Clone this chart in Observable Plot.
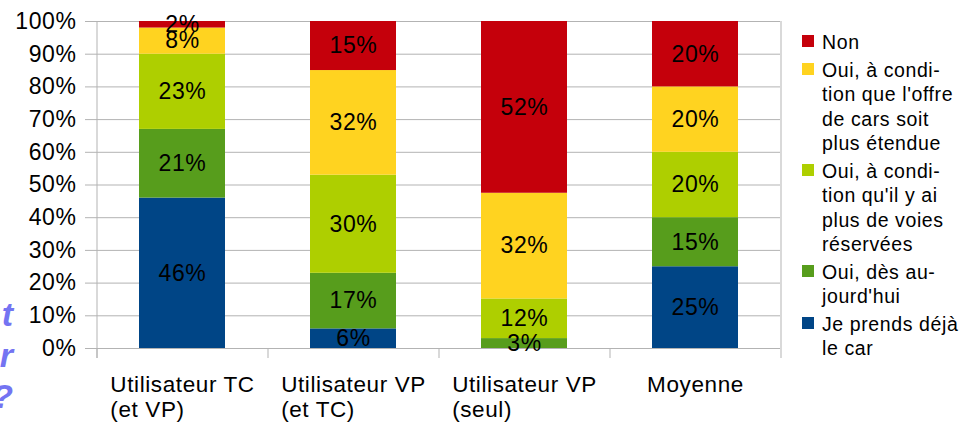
<!DOCTYPE html>
<html><head><meta charset="utf-8">
<script src="https://cdn.jsdelivr.net/npm/d3@7"></script>
<script src="https://cdn.jsdelivr.net/npm/@observablehq/plot@0.6"></script>
<style>
body{margin:0;background:#fff;}
#wrap{position:relative;width:967px;height:422px;overflow:hidden;font-family:"Liberation Sans",Arial,sans-serif;}
#chart svg text{letter-spacing:0.6px;}
#legend{position:absolute;left:0;top:0;width:967px;height:422px;pointer-events:none;}
.entry{position:absolute;left:802px;}
.sw{position:absolute;left:0;width:12px;height:12px;}
.lt{position:absolute;left:20px;font-size:19.5px;line-height:24.3px;white-space:nowrap;color:#000;letter-spacing:0.6px;}
#side{position:absolute;left:-100px;width:113px;text-align:right;font-style:italic;font-weight:bold;font-size:34px;line-height:41px;color:#7474f2;}
</style></head><body>
<div id="wrap"><div id="chart"></div><div id="legend"></div><div id="side"></div></div>
<script>
const categories = ["Utilisateur TC (et VP)", "Utilisateur VP (et TC)", "Utilisateur VP (seul)", "Moyenne"];
const categoryLabels = ["Utilisateur TC\n(et VP)", "Utilisateur VP\n(et TC)", "Utilisateur VP\n(seul)", "Moyenne"];
const series = ["Je prends déjà le car", "Oui, dès aujourd'hui", "Oui, à condition qu'il y ai plus de voies réservées", "Oui, à condition que l'offre de cars soit plus étendue", "Non"];
const seriesColors = ["#004586", "#579d1c", "#aecf00", "#ffd320", "#c5000b"];
const jePrends = [46, 6, 0, 25];
const ouiAujourdhui = [21, 17, 3, 15];
const ouiVoies = [23, 30, 12, 20];
const ouiOffre = [8, 32, 32, 20];
const non = [2, 15, 52, 20];
const yTicks = [0, 0.1, 0.2, 0.3, 0.4, 0.5, 0.6, 0.7, 0.8, 0.9, 1];
// legend, top to bottom
const legendSeries = ["Non", "Oui, à condition que l'offre de cars soit plus étendue", "Oui, à condition qu'il y ai plus de voies réservées", "Oui, dès aujourd'hui", "Je prends déjà le car"];
const legendLines = [
  ["Non"],
  ["Oui, à condi-", "tion que l'offre", "de cars soit", "plus étendue"],
  ["Oui, à condi-", "tion qu'il y ai", "plus de voies", "réservées"],
  ["Oui, dès au-", "jourd'hui"],
  ["Je prends déjà", "le car"]
];
const sideText = ["t", "r", "?"];

const valuesBySeries = [jePrends, ouiAujourdhui, ouiVoies, ouiOffre, non];
const data = [];
series.forEach((s, i) => categories.forEach((c, j) => data.push({category: c, series: s, value: valuesBySeries[i][j]})));

const W = 967, H = 422, mL = 96, mR = 187, mT = 21, mB = 74;
const half = (W - mL - mR) / categories.length / 2;
const below = 10 / (H - mT - mB);
const grid = "#b3b3b3";

const plot = Plot.plot({
  width: W, height: H, marginLeft: mL, marginRight: mR, marginTop: mT, marginBottom: mB,
  style: {fontFamily: "Liberation Sans, Arial, sans-serif", background: "white", color: "black", overflow: "visible"},
  x: {domain: categories, paddingInner: 0.5, paddingOuter: 0.25, axis: null},
  y: {domain: [0, 1], axis: null},
  color: {domain: series, range: seriesColors},
  marks: [
    Plot.ruleY(yTicks, {stroke: grid, insetLeft: -11}),
    Plot.ruleX(categories, {x: d => d, dx: -half, y1: 0, y2: -below, stroke: grid}),
    Plot.ruleX([categories[0]], {x: d => d, dx: -half, y1: 1, y2: -below, stroke: grid}),
    Plot.ruleX([categories[categories.length - 1]], {x: d => d, dx: half, y1: 1, y2: -below, stroke: grid}),
    Plot.barY(data, Plot.stackY({x: "category", y: "value", fill: "series", order: series, offset: "normalize"})),
    Plot.text(data, Plot.stackY({x: "category", y: "value", z: "series", order: series, offset: "normalize",
      text: d => d.value > 0 ? d.value + "%" : "", fontSize: 23, fill: "black"})),
    Plot.axisY({ticks: yTicks, tickSize: 0, tickPadding: 20, tickFormat: d => Math.round(d * 100) + "%", fontSize: 23, label: null}),
    Plot.text(categories, {x: d => d, text: (d, i) => categoryLabels[i], frameAnchor: "bottom", lineAnchor: "top",
      dy: 25.4, textAnchor: "start", fontSize: 22.5, lineHeight: 25 / 22.5})
  ]
});
document.getElementById("chart").append(plot);
const flatLabels = categoryLabels.map(l => l.replace(/\n/g, ""));
d3.select(plot).selectAll("text").filter(function() {
  return flatLabels.includes(this.textContent);
}).each(function() {
  const b = this.getBBox();
  const t = this.getAttribute("transform") || "";
  this.setAttribute("transform", t + ` translate(${-(b.x + b.width / 2)},0)`);
});

// legend
const legendBox = document.getElementById("legend");
let entryTop = 30.1;
legendSeries.forEach((s, i) => {
  const e = document.createElement("div");
  e.className = "entry";
  e.style.top = entryTop + "px";
  const sw = document.createElement("div");
  sw.className = "sw";
  sw.style.top = "4.9px";
  sw.style.background = seriesColors[series.indexOf(s)];
  const lt = document.createElement("div");
  lt.className = "lt";
  lt.style.top = "0px";
  lt.innerHTML = legendLines[i].map(l => l.replace(/&/g, "&amp;").replace(/</g, "&lt;")).join("<br>");
  e.append(sw, lt);
  legendBox.append(e);
  entryTop += legendLines[i].length * 24.3 + 3.7;
});

const side = document.getElementById("side");
side.style.top = "294px";
side.innerHTML = sideText.join("<br>");
</script>
</body></html>
